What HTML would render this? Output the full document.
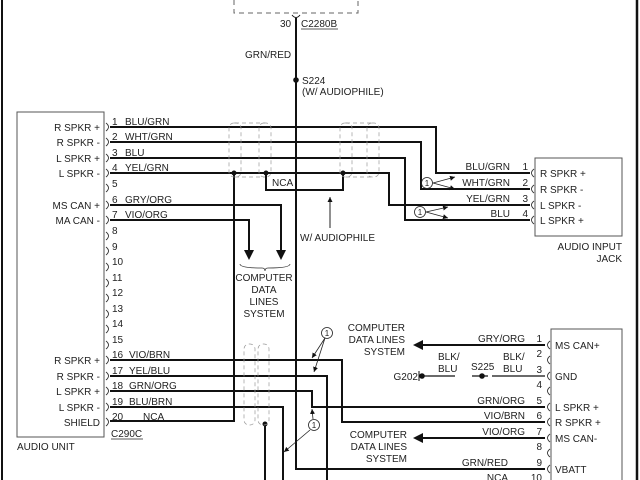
<!DOCTYPE html>
<html><head><meta charset="utf-8"><style>
html,body{margin:0;padding:0;background:#fff}
svg{display:block}
text{font-family:"Liberation Sans",sans-serif;font-size:10px;fill:#222}
</style></head><body>
<svg width="640" height="480" viewBox="0 0 640 480" xmlns="http://www.w3.org/2000/svg">
<defs>
<marker id="sa" markerWidth="6" markerHeight="6" refX="5" refY="3" orient="auto" markerUnits="userSpaceOnUse"><path d="M0,0.5 L5,3 L0,5.5 Z" fill="#111"/></marker></defs>
<line x1="2" y1="0" x2="2" y2="480" stroke="#111" stroke-width="2"/>
<line x1="637" y1="0" x2="637" y2="480" stroke="#111" stroke-width="2.5"/>
<path d="M234,0 V13 H358 V0" fill="none" stroke="#666" stroke-dasharray="5,4"/>
<path d="M292,15 Q296,20 300,15" fill="none" stroke="#111"/>
<text x="280" y="27">30</text><text x="301" y="27">C2280B</text>
<line x1="301" y1="29" x2="338" y2="29" stroke="#222" stroke-width="0.8"/>
<text x="245" y="58">GRN/RED</text>
<circle cx="296" cy="80" r="2.8" fill="#111"/>
<text x="302" y="84">S224</text><text x="302" y="95">(W/ AUDIOPHILE)</text>
<g fill="none" stroke="#111" stroke-width="2">
<path d="M296,18 V469 H545"/>
<path d="M110,127 H436 V173 H530"/>
<path d="M110,142 H421 V189 H530"/>
<path d="M110,158 H405 V220 H530"/>
<path d="M110,173 H389 V205 H530"/>
<path d="M234,173 V421 H110"/>
<path d="M266,173 V190 H343 V173"/>
<path d="M110,205 H281 V250"/>
<path d="M110,220 H249 V250"/>
<path d="M110,360 H342 V422 H545"/>
<path d="M110,376 H327 V480"/>
<path d="M110,391 H312 V407 H545"/>
<path d="M110,407 H283 V480"/>
<path d="M265,424 V480"/>
<path d="M545,345 H420"/><path d="M545,438 H420"/>
</g>
<path d="M244,250 L254,250 L249,260 Z M276,250 L286,250 L281,260 Z" fill="#111"/>
<path d="M413,345 L423,340 L423,350 Z M413,438 L423,433 L423,443 Z" fill="#111"/>
<circle cx="234" cy="173" r="2.5" fill="#111"/><circle cx="266" cy="173" r="2.5" fill="#111"/><circle cx="343" cy="173" r="2.5" fill="#111"/><circle cx="265" cy="424" r="2.5" fill="#111"/>
<g fill="none" stroke="#999" stroke-width="0.7" stroke-dasharray="4,3">
<rect x="229" y="123" width="12" height="54" rx="5"/><rect x="259" y="123" width="12" height="54" rx="5"/>
<line x1="235" y1="123" x2="265" y2="123"/><line x1="235" y1="177" x2="265" y2="177"/>
<rect x="340" y="123" width="12" height="54" rx="5"/><rect x="367" y="123" width="12" height="54" rx="5"/>
<line x1="346" y1="123" x2="373" y2="123"/><line x1="346" y1="177" x2="373" y2="177"/>
<rect x="244" y="344" width="11" height="81" rx="5"/><rect x="258" y="344" width="11" height="81" rx="5"/>
</g>
<rect x="17" y="112" width="87" height="325" fill="none" stroke="#555"/>
<g text-anchor="end">
<text x="100" y="131">R SPKR +</text><text x="100" y="146">R SPKR -</text><text x="100" y="162">L SPKR +</text><text x="100" y="177">L SPKR -</text>
<text x="100" y="209">MS CAN +</text><text x="100" y="224">MA CAN -</text>
<text x="100" y="364">R SPKR +</text><text x="100" y="380">R SPKR -</text><text x="100" y="395">L SPKR +</text><text x="100" y="411">L SPKR -</text><text x="100" y="426">SHIELD</text>
</g>
<g fill="none" stroke="#333" stroke-width="0.9">
<path d="M106,123 Q111,127 106,131 M106,138 Q111,142 106,146 M106,154 Q111,158 106,162 M106,169 Q111,173 106,177 M106,184 Q111,188 106,192 M106,201 Q111,205 106,209 M106,216 Q111,220 106,224 M106,232 Q111,236 106,240 M106,247 Q111,251 106,255 M106,263 Q111,267 106,271 M106,279 Q111,283 106,287 M106,294 Q111,298 106,302 M106,310 Q111,314 106,318 M106,325 Q111,329 106,333 M106,341 Q111,345 106,349 M106,356 Q111,360 106,364 M106,372 Q111,376 106,380 M106,387 Q111,391 106,395 M106,403 Q111,407 106,411 M106,418 Q111,422 106,426"/>
<path d="M534,169 Q529,173 534,177 M534,185 Q529,189 534,193 M534,201 Q529,205 534,209 M534,216 Q529,220 534,224"/>
<path d="M550,341 Q545,345 550,349 M550,356 Q545,360 550,364 M550,372 Q545,376 550,380 M550,387 Q545,391 550,395 M550,403 Q545,407 550,411 M550,418 Q545,422 550,426 M550,434 Q545,438 550,442 M550,449 Q545,453 550,457 M550,465 Q545,469 550,473"/>
</g>
<text x="112" y="125">1</text><text x="125" y="125">BLU/GRN</text>
<text x="112" y="140">2</text><text x="125" y="140">WHT/GRN</text>
<text x="112" y="156">3</text><text x="125" y="156">BLU</text>
<text x="112" y="171">4</text><text x="125" y="171">YEL/GRN</text>
<text x="112" y="187">5</text>
<text x="112" y="203">6</text><text x="125" y="203">GRY/ORG</text>
<text x="112" y="218">7</text><text x="125" y="218">VIO/ORG</text>
<text x="112" y="234">8</text><text x="112" y="250">9</text><text x="112" y="265">10</text><text x="112" y="281">11</text><text x="112" y="296">12</text><text x="112" y="312">13</text><text x="112" y="327">14</text><text x="112" y="343">15</text>
<text x="112" y="358">16</text><text x="129" y="358">VIO/BRN</text>
<text x="112" y="374">17</text><text x="129" y="374">YEL/BLU</text>
<text x="112" y="389">18</text><text x="129" y="389">GRN/ORG</text>
<text x="112" y="405">19</text><text x="129" y="405">BLU/BRN</text>
<text x="112" y="420">20</text><text x="143" y="420">NCA</text>
<text x="111" y="437">C290C</text><line x1="111" y1="439" x2="143" y2="439" stroke="#222" stroke-width="0.8"/>
<text x="17" y="450">AUDIO UNIT</text>
<text x="272" y="186">NCA</text>
<line x1="330" y1="228" x2="330" y2="197" stroke="#222" marker-end="url(#sa)"/>
<text x="300" y="241">W/ AUDIOPHILE</text>
<path d="M240,264 Q240,268 262,268 Q265,268 265,271 Q265,268 268,268 Q290,268 290,264" fill="none" stroke="#333" stroke-width="0.8"/>
<g text-anchor="middle"><text x="264" y="281">COMPUTER</text><text x="264" y="293">DATA</text><text x="264" y="305">LINES</text><text x="264" y="317">SYSTEM</text></g>
<rect x="535" y="158" width="87" height="78" fill="none" stroke="#555"/>
<text x="540" y="177">R SPKR +</text><text x="540" y="193">R SPKR -</text><text x="540" y="209">L SPKR -</text><text x="540" y="224">L SPKR +</text>
<g text-anchor="end"><text x="622" y="250">AUDIO INPUT</text><text x="622" y="262">JACK</text>
<text x="510" y="170">BLU/GRN</text><text x="528" y="170">1</text>
<text x="510" y="186">WHT/GRN</text><text x="528" y="186">2</text>
<text x="510" y="202">YEL/GRN</text><text x="528" y="202">3</text>
<text x="510" y="217">BLU</text><text x="528" y="217">4</text>
</g>
<g fill="none" stroke="#222" stroke-width="0.8">
<circle cx="427" cy="183" r="5.5"/><circle cx="420" cy="212" r="5.5"/>
<circle cx="327" cy="333" r="5.5"/><circle cx="314" cy="425" r="5.5"/>
<line x1="433" y1="183" x2="455" y2="177" marker-end="url(#sa)"/><line x1="433" y1="183" x2="455" y2="189" marker-end="url(#sa)"/>
<line x1="426" y1="212" x2="448" y2="207" marker-end="url(#sa)"/><line x1="426" y1="212" x2="448" y2="218" marker-end="url(#sa)"/>
<line x1="325" y1="338" x2="312" y2="358" marker-end="url(#sa)"/><line x1="325" y1="338" x2="314" y2="372" marker-end="url(#sa)"/>
<line x1="313" y1="419" x2="312" y2="409" marker-end="url(#sa)"/><line x1="310" y1="430" x2="284" y2="452" marker-end="url(#sa)"/>
</g>
<g text-anchor="middle"><text x="427" y="186" style="font-size:8px">1</text><text x="420" y="215" style="font-size:8px">1</text><text x="327" y="336" style="font-size:8px">1</text><text x="314" y="428" style="font-size:8px">1</text></g>
<rect x="551" y="329" width="71" height="160" fill="none" stroke="#555"/>
<text x="555" y="349">MS CAN+</text><text x="555" y="380">GND</text><text x="555" y="411">L SPKR +</text><text x="555" y="426">R SPKR +</text><text x="555" y="442">MS CAN-</text><text x="555" y="473">VBATT</text>
<g text-anchor="end">
<text x="542" y="342">1</text><text x="542" y="357">2</text><text x="542" y="373">3</text><text x="542" y="388">4</text><text x="542" y="404">5</text><text x="542" y="419">6</text><text x="542" y="435">7</text><text x="542" y="450">8</text><text x="542" y="466">9</text><text x="542" y="481">10</text>
<text x="525" y="342">GRY/ORG</text><text x="525" y="404">GRN/ORG</text><text x="525" y="419">VIO/BRN</text><text x="525" y="435">VIO/ORG</text><text x="508" y="466">GRN/RED</text><text x="508" y="481">NCA</text>
<text x="405" y="331">COMPUTER</text><text x="405" y="343">DATA LINES</text><text x="405" y="355">SYSTEM</text>
<text x="407" y="438">COMPUTER</text><text x="407" y="450">DATA LINES</text><text x="407" y="462">SYSTEM</text>
<text x="418" y="380">G202</text>
</g>
<line x1="428" y1="376" x2="545" y2="376" stroke="#111" stroke-width="1.2"/>
<line x1="422" y1="376" x2="428" y2="376" stroke="#111" stroke-width="1.2"/>
<line x1="455" y1="376" x2="472" y2="376" stroke="#fff" stroke-width="3"/>
<line x1="488" y1="376" x2="492" y2="376" stroke="#fff" stroke-width="3"/>
<line x1="419" y1="371" x2="419" y2="381" stroke="#111"/>
<circle cx="422" cy="376" r="2.8" fill="#111"/><circle cx="482" cy="376" r="2.8" fill="#111"/>
<text x="438" y="360">BLK/</text><text x="438" y="372">BLU</text>
<text x="471" y="370">S225</text>
<text x="503" y="360">BLK/</text><text x="503" y="372">BLU</text>
</svg>
</body></html>
